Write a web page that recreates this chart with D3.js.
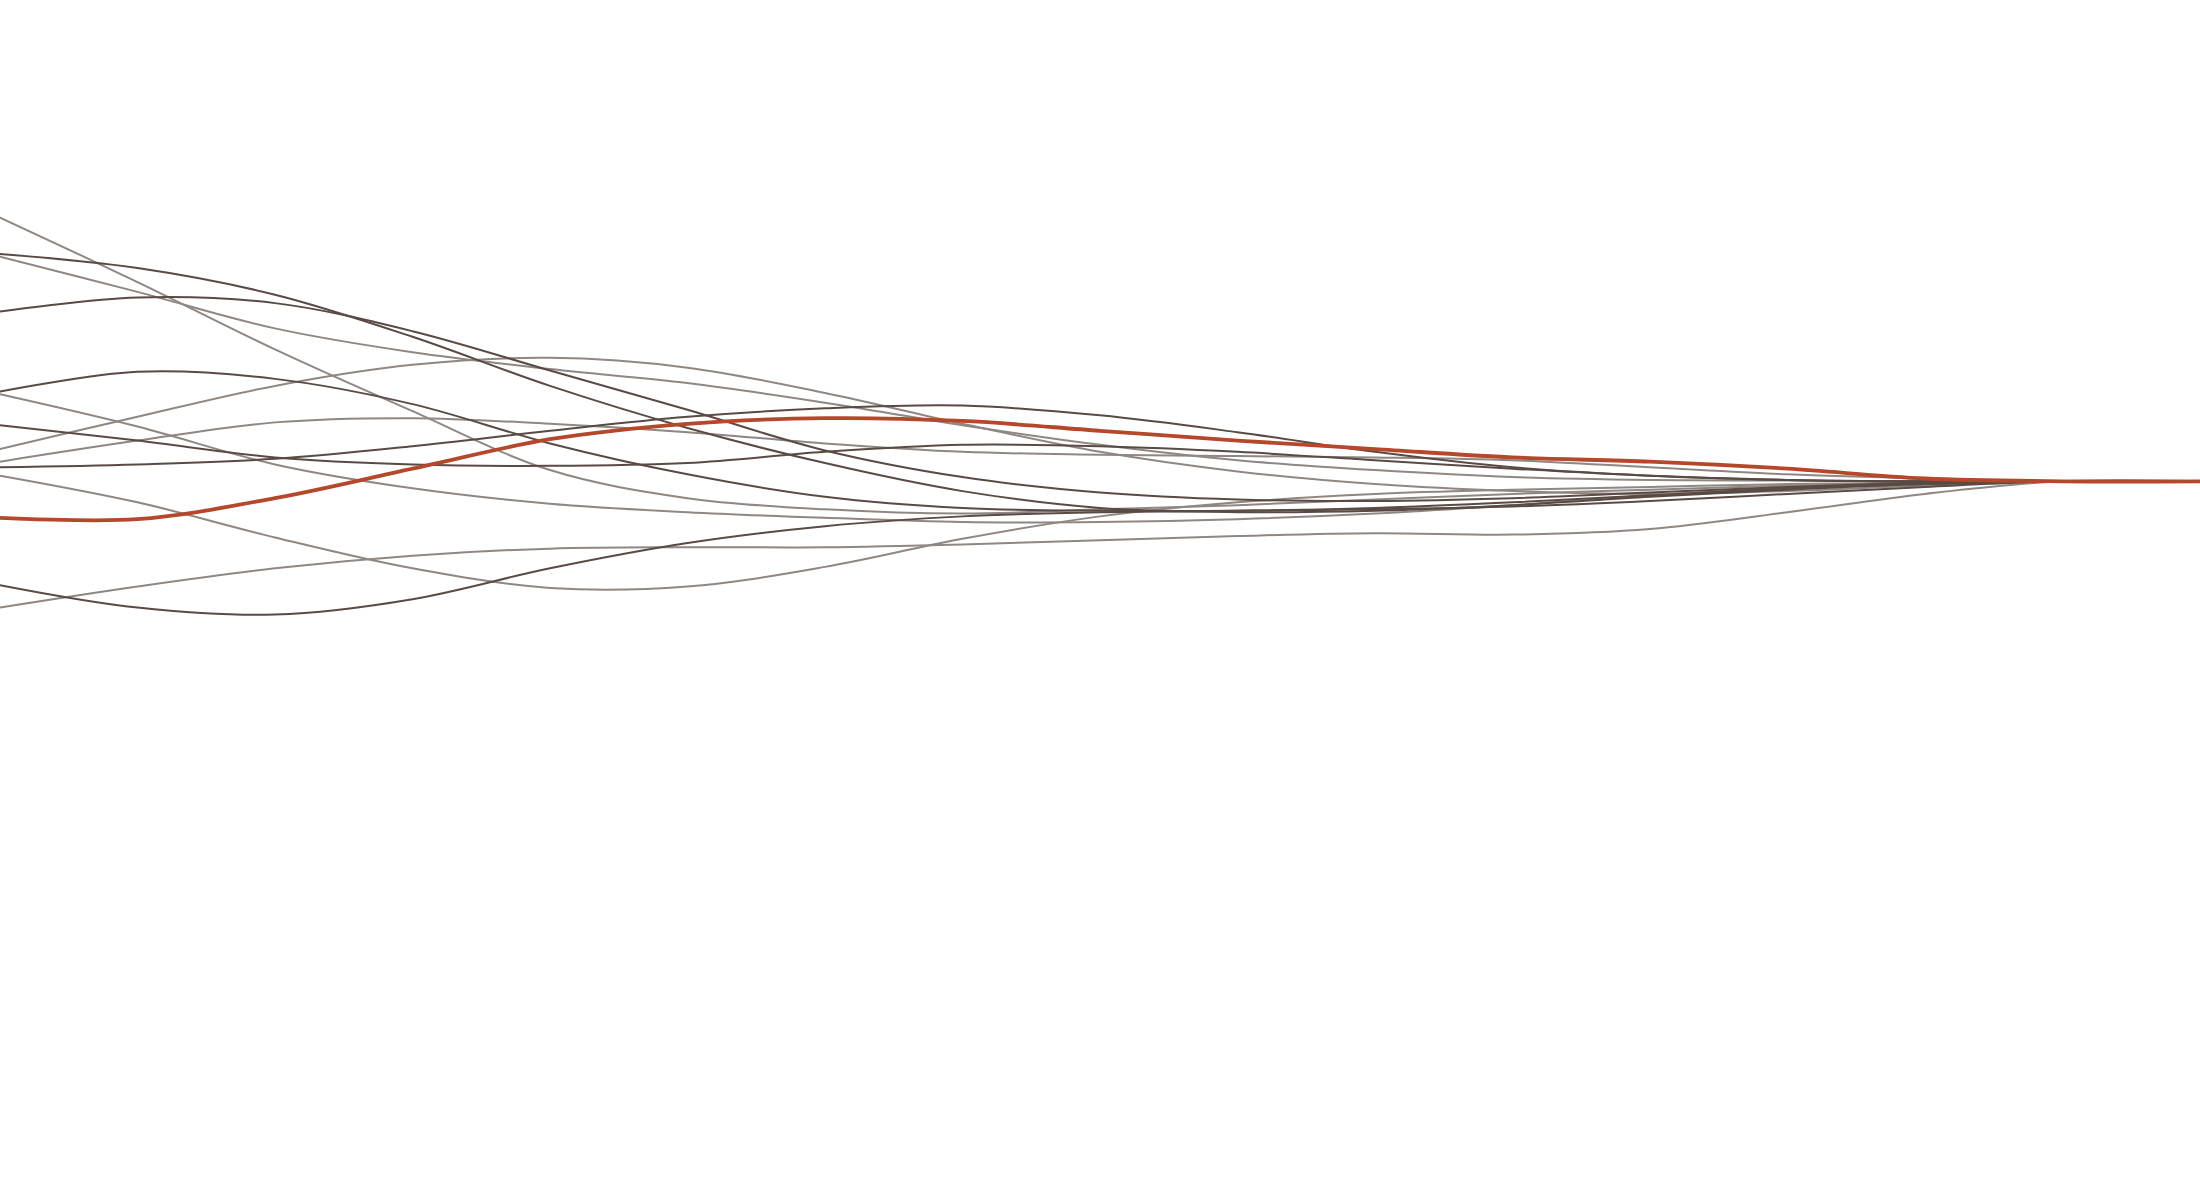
<!DOCTYPE html>
<html>
<head>
<meta charset="utf-8">
<script src="https://cdn.jsdelivr.net/npm/d3@7"></script>
<style>
  html, body { margin: 0; padding: 0; background: #fff; }
  svg { display: block; }
</style>
</head>
<body>
<div id="chart"></div>
<script>
// steps along the horizontal axis
var steps = [0, 1, 2, 3, 4, 5, 6, 7, 8, 9, 10, 11, 12, 13, 14, 15, 16];

// grey paths, lighter tone
var pathA = [1.88, 1.42, 0.94, 0.50, 0.08, -0.12, -0.20, -0.23, -0.20, -0.17, -0.13, -0.09, -0.06, -0.03, -0.01, 0, 0];
var pathC = [1.60, 1.35, 1.09, 0.92, 0.80, 0.70, 0.56, 0.40, 0.26, 0.15, 0.08, 0.03, 0.01, 0.005, 0, 0, 0];
var pathF = [0.62, 0.39, 0.12, -0.05, -0.16, -0.22, -0.26, -0.29, -0.29, -0.27, -0.23, -0.17, -0.10, -0.05, -0.02, 0, 0];
var pathH = [0.23, 0.46, 0.68, 0.83, 0.88, 0.81, 0.63, 0.41, 0.21, 0.07, -0.02, -0.07, -0.09, -0.07, -0.03, 0, 0];
var pathI = [0.14, 0.29, 0.42, 0.45, 0.41, 0.35, 0.27, 0.21, 0.19, 0.18, 0.17, 0.15, 0.10, 0.05, 0.02, 0, 0];
var pathK = [0.04, -0.15, -0.40, -0.62, -0.76, -0.75, -0.61, -0.41, -0.25, -0.15, -0.09, -0.06, -0.04, -0.02, -0.01, 0, 0];
var pathN = [-0.90, -0.75, -0.62, -0.53, -0.48, -0.47, -0.47, -0.45, -0.42, -0.39, -0.37, -0.38, -0.34, -0.22, -0.09, 0, 0];

// grey paths, darker tone
var pathB = [1.62, 1.52, 1.33, 1.03, 0.68, 0.38, 0.13, -0.07, -0.19, -0.22, -0.21, -0.17, -0.11, -0.06, -0.02, 0, 0];
var pathD = [1.21, 1.31, 1.27, 1.07, 0.79, 0.51, 0.22, 0.03, -0.08, -0.13, -0.14, -0.12, -0.08, -0.04, -0.01, 0, 0];
var pathE = [0.64, 0.78, 0.73, 0.55, 0.27, 0.05, -0.11, -0.19, -0.21, -0.21, -0.19, -0.15, -0.10, -0.05, -0.02, 0, 0];
var pathG = [0.40, 0.29, 0.17, 0.12, 0.11, 0.13, 0.21, 0.26, 0.25, 0.21, 0.15, 0.09, 0.04, 0.01, 0, 0, 0];
var pathJ = [0.10, 0.12, 0.16, 0.25, 0.36, 0.46, 0.52, 0.54, 0.47, 0.35, 0.21, 0.10, 0.04, 0.01, 0, 0, 0];
var pathM = [-0.74, -0.90, -0.95, -0.84, -0.62, -0.44, -0.32, -0.25, -0.22, -0.21, -0.20, -0.18, -0.14, -0.09, -0.04, 0, 0];

// highlighted path
var pathL = [-0.26, -0.27, -0.12, 0.09, 0.30, 0.41, 0.45, 0.43, 0.36, 0.29, 0.23, 0.17, 0.14, 0.09, 0.02, 0, 0];

var lightPaths = [pathA, pathC, pathF, pathH, pathI, pathK, pathN];
var darkPaths = [pathB, pathD, pathE, pathG, pathJ, pathM];

var width = 2200,
    height = 1200;

var svg = d3.select("#chart").append("svg")
  .attr("width", width)
  .attr("height", height);

var x = d3.scaleLinear()
  .domain(d3.extent(steps))
  .range([0, width]);

var y = d3.scaleLinear()
  .domain([-1, 1])
  .range([621.6, 341]);

var line = d3.line()
  .curve(d3.curveCatmullRom.alpha(0.5))
  .x(function(d, i) { return x(steps[i]); })
  .y(function(d) { return y(d); });

function drawPaths(list, color, w) {
  list.forEach(function(p) {
    svg.append("path")
      .datum(p)
      .attr("fill", "none")
      .attr("stroke", color)
      .attr("stroke-width", w)
      .attr("stroke-linejoin", "round")
      .attr("stroke-linecap", "round")
      .attr("d", line);
  });
}

drawPaths(lightPaths, "#8f8782", 2);
drawPaths(darkPaths, "#5a4a44", 2);
drawPaths([pathL], "#b5472b", 3.8);
</script>
</body>
</html>
